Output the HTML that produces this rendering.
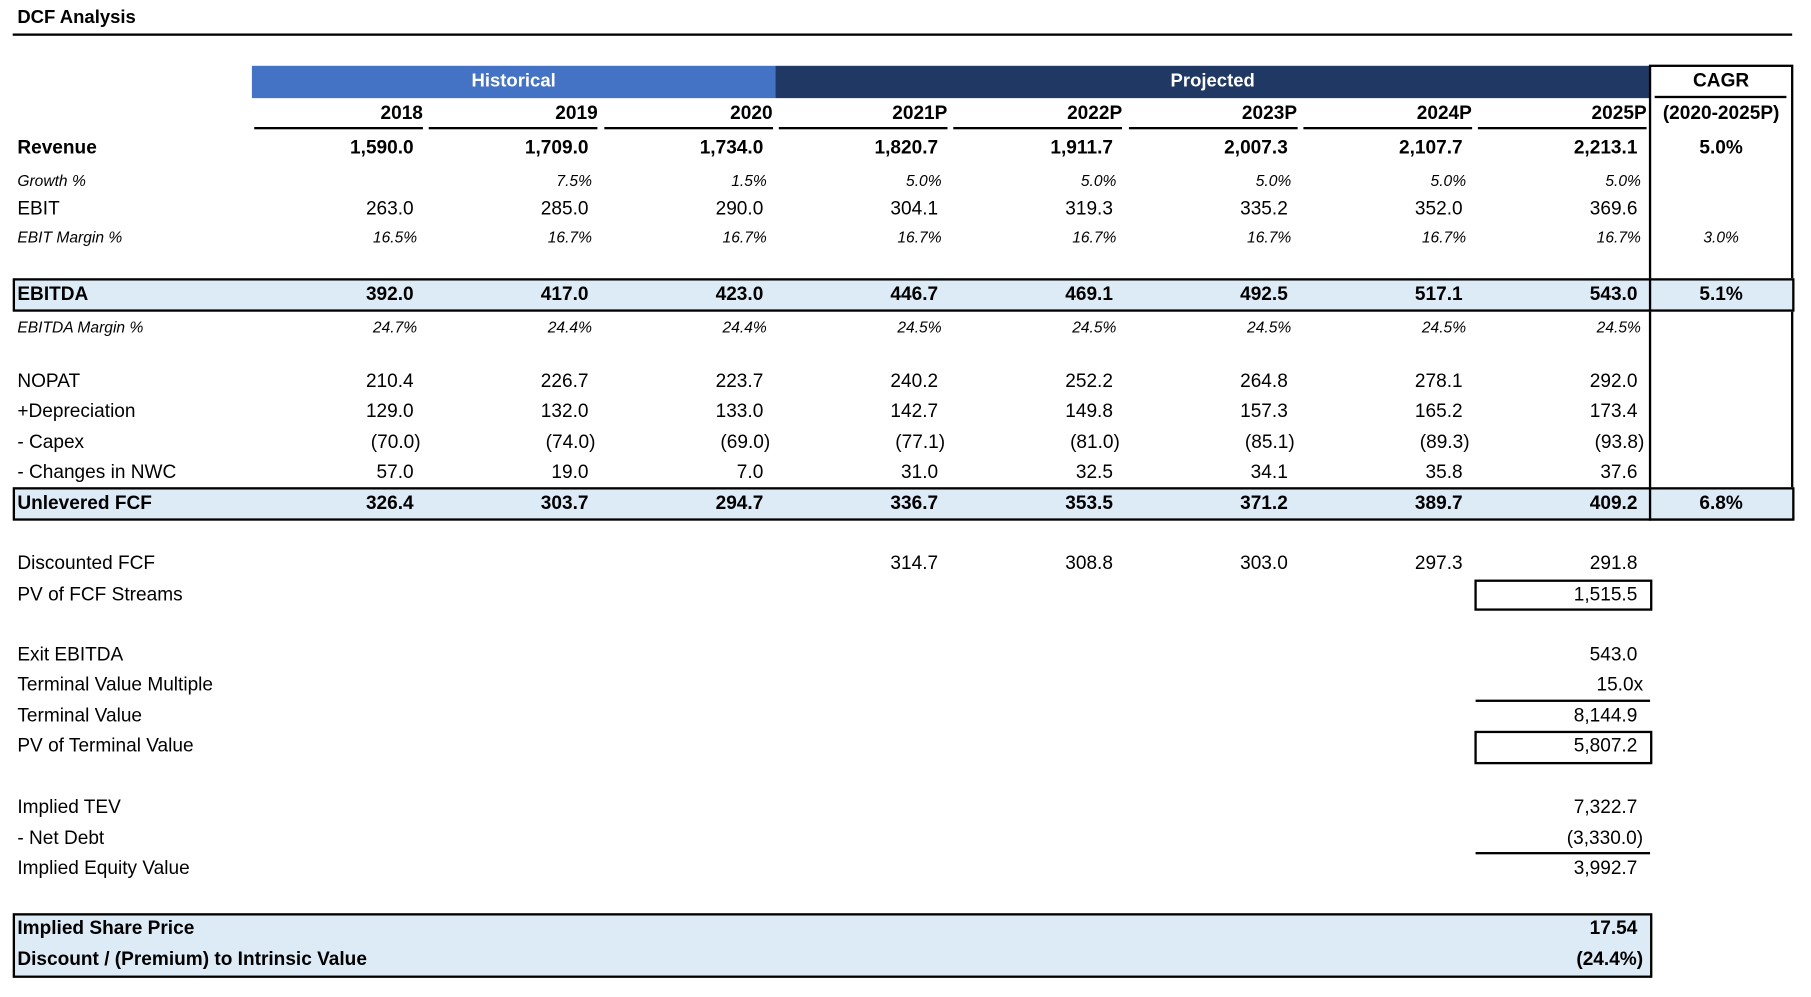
<!DOCTYPE html>
<html><head><meta charset="utf-8">
<style>
html,body{margin:0;padding:0;background:#fff;}
body{width:1811px;height:997px;overflow:hidden;}
#wrap{position:absolute;left:0;top:0;width:1560px;height:858px;transform-origin:0 0;transform:scale(1.1555,1.1545);font-family:"Liberation Sans",sans-serif;color:#000;}
.a{position:absolute;white-space:nowrap;}
.t{font-size:16.5px;line-height:20px;}
.b{font-weight:bold;}
.i{font-style:italic;font-size:13.5px;}
.r{text-align:right;}
.c{text-align:center;}
</style></head><body>
<div id="wrap">
  <div class="a b" style="left:15px;top:7px;font-size:16px">DCF Analysis</div>
  <div class="a" style="left:11px;top:29px;width:1540px;height:2px;background:#000"></div>
  <div class="a c b" style="left:218px;top:57px;width:453px;height:28px;line-height:28px;background:#4472C4;color:#fff;font-size:16px">Historical</div>
  <div class="a c b" style="left:671px;top:57px;width:757px;height:28px;line-height:28px;background:#203864;color:#fff;font-size:16px">Projected</div>
  <div class="a" style="left:1427px;top:56px;width:121px;height:391px;border:2px solid #000"></div>
  <div class="a c b t" style="left:1429px;top:60px;width:121px">CAGR</div>
  <div class="a" style="left:1432px;top:83px;width:114px;height:2px;background:#000"></div>
  <div class="a c b t" style="left:1429px;top:88px;width:121px">(2020-2025P)</div>
  <div class="a" style="left:11px;top:241px;width:1538px;height:25px;background:#DDEBF7;border:2px solid #000"></div>
  <div class="a" style="left:1427px;top:241px;width:2px;height:29px;background:#000"></div>
  <div class="a" style="left:11px;top:422px;width:1538px;height:25px;background:#DDEBF7;border:2px solid #000"></div>
  <div class="a" style="left:1427px;top:422px;width:2px;height:29px;background:#000"></div>
  <div class="a" style="left:11px;top:791px;width:1415px;height:52px;background:#DDEBF7;border:2px solid #000"></div>
  <div class="a" style="left:1276px;top:502px;width:150px;height:23px;border:2px solid #000"></div>
  <div class="a" style="left:1276px;top:633px;width:150px;height:25px;border:2px solid #000"></div>
  <div class="a" style="left:1277px;top:606px;width:151px;height:2px;background:#000"></div>
  <div class="a" style="left:1277px;top:738px;width:151px;height:2px;background:#000"></div>
</div>
<script>
const years = ["2018","2019","2020","2021P","2022P","2023P","2024P","2025P"];
const revenue = ["1,590.0","1,709.0","1,734.0","1,820.7","1,911.7","2,007.3","2,107.7","2,213.1"];
const growth = ["","7.5%","1.5%","5.0%","5.0%","5.0%","5.0%","5.0%"];
const ebit = ["263.0","285.0","290.0","304.1","319.3","335.2","352.0","369.6"];
const ebitMargin = ["16.5%","16.7%","16.7%","16.7%","16.7%","16.7%","16.7%","16.7%"];
const ebitda = ["392.0","417.0","423.0","446.7","469.1","492.5","517.1","543.0"];
const ebitdaMargin = ["24.7%","24.4%","24.4%","24.5%","24.5%","24.5%","24.5%","24.5%"];
const nopat = ["210.4","226.7","223.7","240.2","252.2","264.8","278.1","292.0"];
const depreciation = ["129.0","132.0","133.0","142.7","149.8","157.3","165.2","173.4"];
const capex = ["(70.0)","(74.0)","(69.0)","(77.1)","(81.0)","(85.1)","(89.3)","(93.8)"];
const nwc = ["57.0","19.0","7.0","31.0","32.5","34.1","35.8","37.6"];
const ufcf = ["326.4","303.7","294.7","336.7","353.5","371.2","389.7","409.2"];
const discounted = ["","","","314.7","308.8","303.0","297.3","291.8"];
const cagr = {revenue:"5.0%",ebitMargin:"3.0%",ebitda:"5.1%",ufcf:"6.8%"};
const summaryLabels = ["PV of FCF Streams","Exit EBITDA","Terminal Value Multiple","Terminal Value","PV of Terminal Value","Implied TEV","- Net Debt","Implied Equity Value","Implied Share Price","Discount / (Premium) to Intrinsic Value"];
const summaryValues = ["1,515.5","543.0","15.0x","8,144.9","5,807.2","7,322.7","(3,330.0)","3,992.7","17.54","(24.4%)"];

const W = document.getElementById('wrap');
const colRight = i => 366 + i*151.3;
function txt(cls, left, top, width, s, name){
  const d = document.createElement('div');
  d.className = 'a ' + cls;
  d.style.left = left + 'px'; d.style.top = top + 'px';
  if (width) d.style.width = width + 'px';
  d.textContent = s;
  
  
  W.appendChild(d);
  return d;
}
years.forEach((y,i)=>{
  txt('t b r', colRight(i)-140, 88, 140, y, 'year-header-'+y);
  const u = document.createElement('div');
  u.className='a'; u.style.left=(colRight(i)-146)+'px'; u.style.top='110px'; u.style.width='146px'; u.style.height='2px'; u.style.background='#000';
  
  
  W.appendChild(u);
});
function row(label, vals, top, opts, key){
  const lc = 't' + (opts.b?' b':'') + (opts.i?' i':'');
  txt(lc, 15, top + (opts.i?1:0), 0, label, key+'-label');
  vals.forEach((v,i)=>{
    if(!v) return;
    let off = v.endsWith(')') ? 2 : (opts.i ? 5 : 8);
    txt(lc+' r', colRight(i)-off-140, top + (opts.i?1:0), 140, v, key+'-value');
  });
  if (cagr[key]) txt(lc+' c', 1429, top + (opts.i?1:0), 121, cagr[key], key+'-cagr');
}
row('Revenue', revenue, 118, {b:1}, 'revenue');
row('Growth %', growth, 146, {i:1}, 'growth');
row('EBIT', ebit, 171, {}, 'ebit');
row('EBIT Margin %', ebitMargin, 195, {i:1}, 'ebitMargin');
row('EBITDA', ebitda, 245, {b:1}, 'ebitda');
row('EBITDA Margin %', ebitdaMargin, 273, {i:1}, 'ebitdaMargin');
row('NOPAT', nopat, 320, {}, 'nopat');
row('+Depreciation', depreciation, 346, {}, 'depreciation');
row('- Capex', capex, 373, {}, 'capex');
row('- Changes in NWC', nwc, 399, {}, 'nwc');
row('Unlevered FCF', ufcf, 426, {b:1}, 'ufcf');
row('Discounted FCF', discounted, 478, {}, 'discounted');
const sTops = [505,557,583,610,636,689,716,742,794,821];
summaryLabels.forEach((l,i)=>{
  const bold = i>=8 ? ' b' : '';
  txt('t'+bold, 15, sTops[i], 0, l, 'summary-label');
  const v = summaryValues[i];
  const off = (v.endsWith(')')||v.endsWith('x')) ? 3 : 8;
  txt('t r'+bold, 1425-off-200, sTops[i], 200, v, 'summary-value');
});
</script>
</body></html>
